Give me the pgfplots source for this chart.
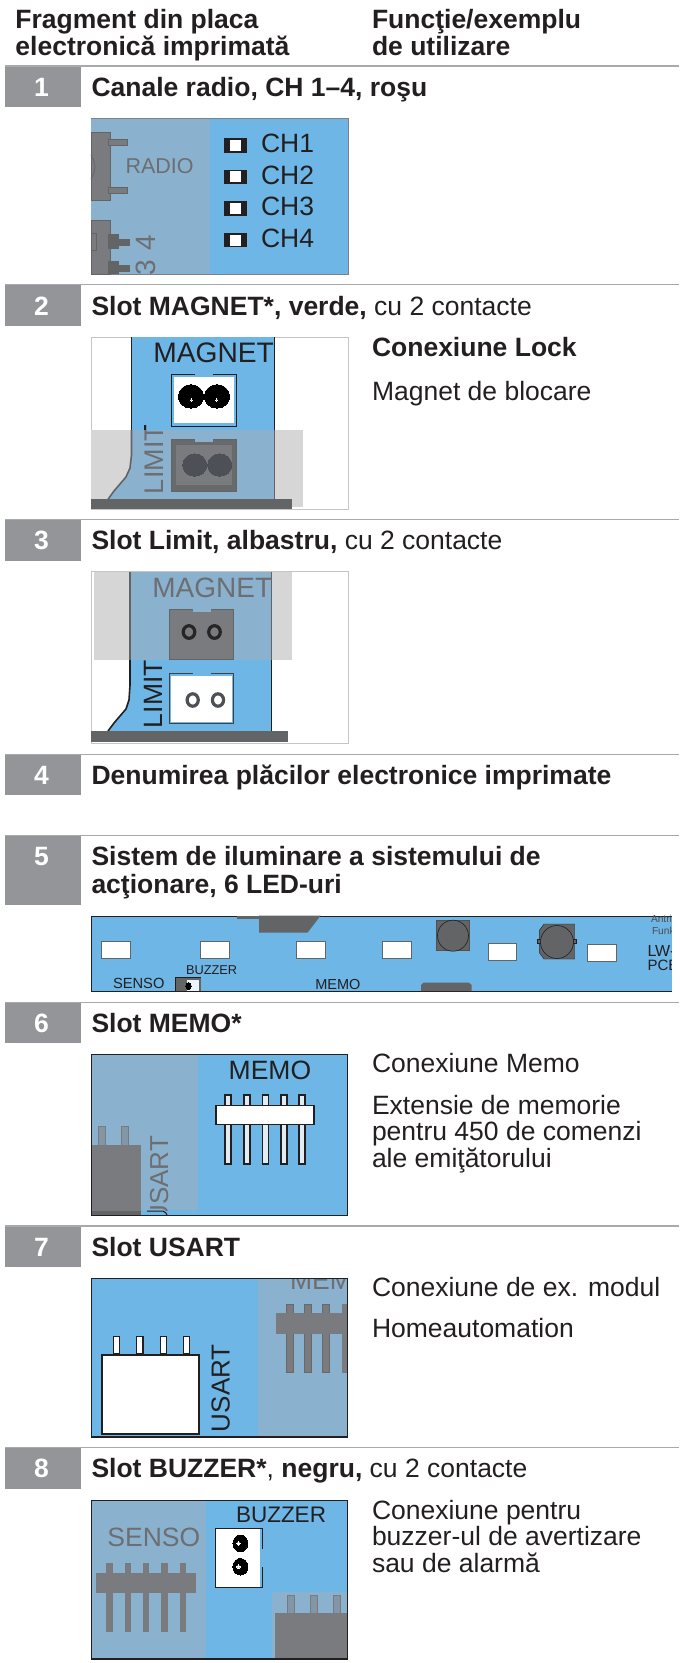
\documentclass[border=0pt]{standalone}
\usepackage{fontspec}
\setmainfont{Liberation Sans}
\usepackage{pgfplots}
\pgfplotsset{compat=1.18}
\definecolor{pcb}{HTML}{6DB6E6}
\definecolor{dim}{HTML}{8AB2CF}
\definecolor{gr}{HTML}{7A7B7E}
\definecolor{dgr}{HTML}{636466}
\definecolor{lg}{HTML}{D6D6D6}
\definecolor{txt}{HTML}{231F20}
\definecolor{boxc}{HTML}{939598}
\definecolor{linec}{HTML}{A7A9AC}
\definecolor{dtxt}{HTML}{6D6E71}
\definecolor{hl}{HTML}{4E5058}
\newcommand{\rc}[5]{\addplot[fill=#5,draw=none,forget plot,mark=none] coordinates {(#1,#2)(#3,#2)(#3,#4)(#1,#4)} --cycle;}
\newcommand{\rb}[7]{\addplot[fill=#5,draw=#6,line width=#7,forget plot,mark=none] coordinates {(#1,#2)(#3,#2)(#3,#4)(#1,#4)} --cycle;}
\newcommand{\tx}[5]{\node[anchor=base west,inner sep=0pt,outer sep=0pt,text=#4,font=\fontsize{#3}{#3}\selectfont] at (axis cs:#1,#2) {#5};}
\newcommand{\rt}[5]{\node[rotate=90,anchor=base west,inner sep=0pt,outer sep=0pt,text=#4,font=\fontsize{#3}{#3}\selectfont] at (axis cs:#1,#2) {#5};}
% x y radius fill draw linewidth xscale
\newcommand{\hole}[7]{\addplot[only marks,forget plot,mark=*,mark size=#3,mark options={fill=#4,draw=#5,line width=#6,xscale=#7}] coordinates {(#1,#2)};}
\newcommand{\sect}[4]{\rc{5}{#2}{80.5}{#3}{boxc}
\addplot[draw=linec,line width=1.3pt,forget plot,mark=none] coordinates {(5,#2)(679,#2)};
\node[anchor=base,inner sep=0pt,text=white,font=\fontsize{26.5}{26.5}\selectfont\bfseries] at (axis cs:41.5,#4) {#1};}
\begin{document}
\begin{tikzpicture}
\begin{axis}[width=679pt,height=1663pt,scale only axis,xmin=0,xmax=679,ymin=0,ymax=1663,y dir=reverse,axis lines=none,ticks=none,clip=false]
\rc{0}{0}{679}{1663}{white}
% header
\tx{15.5}{28}{26.5}{txt}{\bfseries Fragment din placa}
\tx{15.5}{55}{26.5}{txt}{\bfseries electronică imprimată}
\tx{372}{28}{26.5}{txt}{\bfseries Funcţie/exemplu}
\tx{372}{55}{26.5}{txt}{\bfseries de utilizare}
% sections
\sect{1}{66}{107.3}{96}
\tx{91.5}{96}{26.5}{txt}{\bfseries Canale radio, CH 1–4, roşu}
\sect{2}{284.8}{325.7}{315}
\tx{91.5}{315}{26.5}{txt}{\bfseries Slot MAGNET*, verde, \mdseries cu 2 contacte}
\sect{3}{519.8}{560.7}{549.3}
\tx{91.5}{549.3}{26.5}{txt}{\bfseries Slot Limit, albastru, \mdseries cu 2 contacte}
\sect{4}{754.3}{795}{784.3}
\tx{91.5}{784.3}{26.5}{txt}{\bfseries Denumirea plăcilor electronice imprimate}
\sect{5}{835.8}{905}{865}
\tx{91.5}{865}{26.5}{txt}{\bfseries Sistem de iluminare a sistemului de}
\tx{91.5}{893}{26.5}{txt}{\bfseries acţionare, 6 LED-uri}
\sect{6}{1002.2}{1043.3}{1032.7}
\tx{91.5}{1032.7}{26.5}{txt}{\bfseries Slot MEMO*}
\sect{7}{1226}{1266.7}{1256.7}
\tx{91.5}{1256.7}{26.5}{txt}{\bfseries Slot USART}
\sect{8}{1447.5}{1489.3}{1477.7}
\tx{91.5}{1477.7}{26.5}{txt}{\bfseries Slot BUZZER*\mdseries, \bfseries negru, \mdseries cu 2 contacte}
% body text
\tx{372}{356}{26.5}{txt}{\bfseries Conexiune Lock}
\tx{372}{400}{26.5}{txt}{Magnet de blocare}
\tx{372}{1072.7}{26.5}{txt}{Conexiune Memo}
\tx{372}{1114}{26.5}{txt}{Extensie de memorie}
\tx{372}{1140.7}{26.5}{txt}{pentru 450 de comenzi}
\tx{372}{1167.7}{26.5}{txt}{ale emiţătorului}
\tx{372}{1296.7}{26.5}{txt}{Conexiune de ex. modul}
\tx{372}{1337.3}{26.5}{txt}{Homeautomation}
\tx{372}{1519}{26.5}{txt}{Conexiune pentru}
\tx{372}{1545.7}{26.5}{txt}{buzzer-ul de avertizare}
\tx{372}{1572.3}{26.5}{txt}{sau de alarmă}
% ---- image 1
\rb{91}{118}{348}{274.3}{pcb}{gray}{0.8pt}
\rc{91.4}{118.5}{210}{273.9}{dim}
\rb{91}{132}{110.4}{200}{gr}{dgr}{0.8pt}
\addplot[draw=dgr,line width=0.7pt,forget plot,mark=none] coordinates {(91,155)(94,161)(95,167)(94,173)(91,179)};
\rb{108}{139.3}{127}{145}{gr}{dgr}{0.6pt}
\rb{108}{187}{127}{193.5}{gr}{dgr}{0.6pt}
\tx{125.6}{173.3}{21.5}{dtxt}{RADIO}
\rb{91}{220}{110}{274}{gr}{dgr}{0.8pt}
\rb{91}{233}{96}{250}{gr}{dgr}{0.6pt}
\rc{108}{234}{119}{249}{dgr}
\rc{119}{238.7}{130}{246}{dgr}
\rc{108}{261}{119}{273.5}{dgr}
\rc{119}{265}{130}{272}{dgr}
\rt{155}{250.5}{28}{dtxt}{4}
\rt{155}{275.5}{28}{dtxt}{3}
\rc{130}{274.7}{170}{283.5}{white}
\rc{223.5}{138.3}{247}{152.7}{txt}\rc{229.5}{140}{241}{151}{white}
\rc{223.5}{169.7}{247}{184}{txt}\rc{229.5}{171.4}{241}{182.4}{white}
\rc{223.5}{201}{247}{215.7}{txt}\rc{229.5}{202.8}{241}{213.9}{white}
\rc{223.5}{232.7}{247}{247.3}{txt}\rc{229.5}{234.5}{241}{245.5}{white}
\tx{261}{152.7}{26.5}{txt}{CH1}
\tx{261}{184}{26.5}{txt}{CH2}
\tx{261}{215.7}{26.5}{txt}{CH3}
\tx{261}{247.3}{26.5}{txt}{CH4}
% ---- image 2
\rb{91}{337}{348}{509.3}{white}{lg!80!gray}{0.8pt}
\rc{91}{430}{303}{506.7}{lg}
\addplot[fill=pcb,draw=none,forget plot,mark=none] coordinates {(131.5,337.4)(274.5,337.4)(274.5,430)(131.5,430)} --cycle;
\addplot[fill=dim,draw=none,forget plot,mark=none] coordinates {(131.5,430)(274.5,430)(274.5,499.3)(108,499.3)(114,491)(120,484)(126,477)(130,468)(131.5,455)} --cycle;
\addplot[draw=txt,line width=1.6pt,forget plot,mark=none] coordinates {(131.5,337.4)(131.5,430)};
\addplot[draw=txt,line width=1.6pt,forget plot,mark=none] coordinates {(274.5,337.4)(274.5,430)};
\addplot[draw=dgr,line width=1.6pt,forget plot,mark=none] coordinates {(131.5,430)(131.5,455)(130,468)(126,477)(120,484)(114,491)(108,499.3)};
\addplot[draw=dgr,line width=1.6pt,forget plot,mark=none] coordinates {(274.5,430)(274.5,499.3)};
\rc{91}{499.3}{291.7}{509}{dgr}
\tx{153.3}{362.7}{28.2}{txt}{MAGNET}
\rb{171.5}{374.8}{236.8}{426.2}{pcb}{txt}{1.2pt}
\rc{195}{374}{213.3}{378}{pcb}
\rc{174.3}{377.3}{234}{423.3}{white}
\hole{191}{396.4}{11.7}{black}{black}{0pt}{1.08}
\hole{217}{396.4}{11.7}{black}{black}{0pt}{1.08}
\hole{191.3}{400}{1.2}{white}{white}{0pt}{0.6}
\hole{216.7}{400}{1.2}{white}{white}{0pt}{0.6}
\rb{171.5}{439.8}{236.8}{491.2}{gr!85!black}{dgr}{1.2pt}
\rc{176}{445}{231.7}{485}{gr}
\rc{195}{439}{213.3}{442}{dim}
\hole{194.7}{465}{11.2}{hl}{hl}{0pt}{1.07}
\hole{219.7}{465}{11.2}{hl}{hl}{0pt}{1.07}
\rt{163}{494}{27}{dtxt}{LIMIT}
\rc{144}{425}{146}{430}{txt}
% ---- image 3
\rb{91}{571.7}{348}{743.3}{white}{lg!80!gray}{0.8pt}
\rc{94}{572.2}{291.5}{660}{lg}
\rc{130}{572.2}{271.5}{660}{dim}
\addplot[fill=pcb,draw=none,forget plot,mark=none] coordinates {(130,660)(271.5,660)(271.5,731)(108,731)(114,723)(120,716)(126,709)(129,700)(130,685)} --cycle;
\addplot[draw=dgr,line width=1.6pt,forget plot,mark=none] coordinates {(130,572.2)(130,660)};
\addplot[draw=dgr,line width=1.6pt,forget plot,mark=none] coordinates {(271.5,572.2)(271.5,660)};
\addplot[draw=txt,line width=1.6pt,forget plot,mark=none] coordinates {(130,660)(130,685)(129,700)(126,709)(120,716)(114,723)(108,731)};
\addplot[draw=txt,line width=1.6pt,forget plot,mark=none] coordinates {(271.5,660)(271.5,731)};
\rc{91.4}{731}{287.7}{741.7}{dgr}
\tx{152.4}{597.7}{28}{dtxt}{MAGNET}
\rb{169.8}{609.8}{233.8}{659.6}{gr}{dgr}{1.2pt}
\rc{192.7}{609}{211}{612}{dim}
\hole{189}{632}{6.3}{gr}{txt!90!hl}{3.2pt}{0.92}
\hole{214.5}{632}{6.3}{gr}{txt!90!hl}{3.2pt}{0.92}
\rb{169.8}{673.8}{233.8}{723.8}{pcb}{txt!85!white}{1.2pt}
\rc{192.7}{673}{211}{675.7}{pcb}
\rc{171}{675.7}{231.7}{721.7}{white}
\hole{192.7}{700}{6.2}{white}{hl}{3.2pt}{0.9}
\hole{218}{700}{6.2}{white}{hl}{3.2pt}{0.9}
\rt{162}{728}{26.5}{txt}{LIMIT}
% ---- image 5
\rc{91}{915.7}{672}{991.7}{pcb}
\addplot[draw=txt,line width=1pt,forget plot,mark=none] coordinates {(672,916)(91.3,916)(91.3,991.5)(672,991.5)};
\rc{237}{915.7}{259}{919}{dgr}
\addplot[fill=dgr,draw=none,forget plot,mark=none] coordinates {(259,915.7)(320.5,915.7)(307.5,932.7)(259,932.7)} --cycle;
\rb{101.8}{941.7}{130.8}{958.3}{white}{dgr}{0.7pt}
\rb{200.5}{941.7}{229.5}{958.3}{white}{dgr}{0.7pt}
\rb{296.7}{941.7}{325.7}{958.3}{white}{dgr}{0.7pt}
\rb{382.4}{941.7}{411.4}{958.3}{white}{dgr}{0.7pt}
\rb{488}{943.3}{516.7}{960.7}{white}{dgr}{0.7pt}
\rb{587.7}{944}{616.7}{961}{white}{dgr}{0.7pt}
\rb{436.5}{920.7}{469.5}{950.7}{dgr}{dgr!80!black}{0.5pt}
\hole{453}{935.7}{15.5}{dgr}{txt}{0.6pt}{1}
\addplot[fill=dgr,draw=txt,line width=0.4pt,forget plot,mark=none] coordinates {(544,924)(574.7,924)(574.7,959)(544,959)(539.6,953)(539.6,930)} --cycle;
\rb{537.5}{939}{541}{943.5}{dgr}{txt}{0.4pt}
\rb{573.5}{939}{576.5}{943.5}{dgr}{txt}{0.4pt}
\hole{557}{942}{16.5}{dgr}{txt}{0.6pt}{1}
\tx{186}{974}{12.8}{txt}{BUZZER}
\tx{113}{988}{14.7}{txt}{SENSO}
\tx{315.3}{989.3}{14.5}{txt}{MEMO}
\rc{174.5}{976.7}{201.4}{991.2}{dgr}
\addplot[draw=txt,line width=1pt,forget plot,mark=none] coordinates {(175,991)(175,977)(201,977)};
\rc{187}{980}{198.5}{991}{pcb!15!white}
\hole{188.5}{986}{3.5}{black}{black}{0pt}{0.8}
\addplot[fill=dgr,draw=none,forget plot,mark=none] coordinates {(421,991.2)(421,985)(423.5,982.7)(469,982.7)(471.6,985)(471.6,991.2)} --cycle;
\tx{651}{922.7}{10.2}{dtxt!70!black}{Antri}
\tx{652}{934}{10.2}{dtxt!70!black}{Funk}
\tx{647.5}{956.7}{16}{txt}{LW-}
\tx{647.5}{970}{15}{txt}{PCB}
\rc{672}{915}{679}{992}{white}
% ---- image 6
\rc{91}{1054}{348}{1215.7}{pcb}
\rc{91}{1054}{198.4}{1210}{dim}
\rc{91}{1145.3}{140.8}{1215}{gr}
\rc{91}{1211}{140.8}{1215.7}{dgr}
\rb{98.7}{1126.7}{105.7}{1145.3}{dim!50!gr}{gr}{1pt}
\rb{121.3}{1126.7}{128.6}{1145.3}{dim!50!gr}{gr}{1pt}
\rt{168}{1223.7}{26}{dtxt}{USART}
\rc{141.2}{1210.5}{200}{1215.3}{pcb}
\rc{141}{1216.2}{200}{1225}{white}
\addplot[draw=txt,line width=1pt,forget plot,mark=none] coordinates {(147,1211)(163,1211)(166,1213)(167,1215)};
\addplot[draw=txt,line width=1.2pt,forget plot,mark=none] coordinates {(91.4,1054.4)(347.6,1054.4)(347.6,1215.4)(91.4,1215.4)(91.4,1054.4)};
\tx{228.7}{1079.3}{26.5}{txt}{MEMO}
\rb{225.2}{1095}{231.2}{1164}{dim!25!white}{txt}{1.5pt}
\rb{243.9}{1095}{249.9}{1164}{dim!25!white}{txt}{1.5pt}
\rb{262.5}{1095}{268.5}{1164}{dim!25!white}{txt}{1.5pt}
\rb{281.1}{1095}{287.1}{1164}{dim!25!white}{txt}{1.5pt}
\rb{298.9}{1095}{304.9}{1164}{dim!25!white}{txt}{1.5pt}
\rb{215.8}{1105.5}{313.8}{1124.5}{white}{txt}{1.8pt}
% ---- image 7
\rc{91}{1278}{348}{1437.3}{pcb}
\rc{257.7}{1278}{348}{1437.3}{dim}
\tx{290}{1289.3}{26.5}{dtxt}{MEMO}
\rc{280}{1262}{371}{1277.6}{white}
\rc{348.3}{1277}{371}{1293}{white}
\rb{286.3}{1304}{293.2}{1372.7}{gr}{dgr!80!gr}{0.6pt}
\rb{304.5}{1304}{311.4}{1372.7}{gr}{dgr!80!gr}{0.6pt}
\rb{322.6}{1304}{329.6}{1372.7}{gr}{dgr!80!gr}{0.6pt}
\rc{342}{1304}{348}{1372.7}{gr}
\rc{276.3}{1313.3}{348}{1334}{gr}
\addplot[draw=txt,line width=1.2pt,forget plot,mark=none] coordinates {(91.4,1278.4)(347.6,1278.4)(347.6,1437)(91.4,1437)(91.4,1278.4)};
\rb{113.3}{1336.2}{119.2}{1354}{white}{txt}{1.1pt}
\rb{136.8}{1336.2}{143}{1354}{white}{txt}{1.1pt}
\rb{160.2}{1336.2}{166.3}{1354}{white}{txt}{1.1pt}
\rb{183.6}{1336.2}{189.6}{1354}{white}{txt}{1.1pt}
\rb{101.5}{1354.5}{199.2}{1433.5}{white}{txt}{2pt}
\rt{229.5}{1432}{26}{txt}{USART}
% ---- image 8
\rc{91}{1500}{348}{1659.3}{pcb}
\rc{91}{1500}{206}{1659.3}{dim}
\rc{272}{1592.3}{348}{1659.3}{dim}
\rc{275.4}{1613.3}{348}{1658.5}{gr}
\rb{287}{1595}{294}{1613.3}{dim!50!gr}{gr}{1pt}
\rb{310.5}{1595}{317.5}{1613.3}{dim!50!gr}{gr}{1pt}
\rb{333.5}{1595}{340.4}{1613.3}{dim!50!gr}{gr}{1pt}
\tx{107.4}{1546}{26.5}{dtxt}{SENSO}
\rc{106.4}{1563.3}{112.8}{1632.3}{gr}
\rc{124.6}{1563.3}{131}{1632.3}{gr}
\rc{142.8}{1563.3}{149.2}{1632.3}{gr}
\rc{161.4}{1563.3}{167.8}{1632.3}{gr}
\rc{180}{1563.3}{186.4}{1632.3}{gr}
\rc{96}{1572.7}{195.8}{1592.7}{gr}
\tx{236}{1522.7}{22.5}{txt}{BUZZER}
\rc{215.5}{1528.5}{259.8}{1587}{white}
\addplot[draw=txt,line width=1.2pt,forget plot,mark=none] coordinates {(262.3,1528.3)(215.4,1528.3)(215.4,1587.7)(262.3,1587.7)};
\addplot[draw=txt,line width=1pt,forget plot,mark=none] coordinates {(262,1528.3)(262,1549)};
\addplot[draw=txt,line width=1pt,forget plot,mark=none] coordinates {(262,1567)(262,1587.7)};
\hole{240.4}{1543.3}{8.3}{black}{black}{0pt}{0.9}
\hole{240.4}{1566.7}{8.3}{black}{black}{0pt}{0.9}
\hole{238.5}{1543.3}{1.8}{white}{white}{0pt}{1}
\hole{238.5}{1566.7}{1.8}{white}{white}{0pt}{1}
\addplot[draw=txt,line width=1.2pt,forget plot,mark=none] coordinates {(91.4,1500.4)(347.6,1500.4)(347.6,1659)(91.4,1659)(91.4,1500.4)};
\end{axis}
\end{tikzpicture}
\end{document}
